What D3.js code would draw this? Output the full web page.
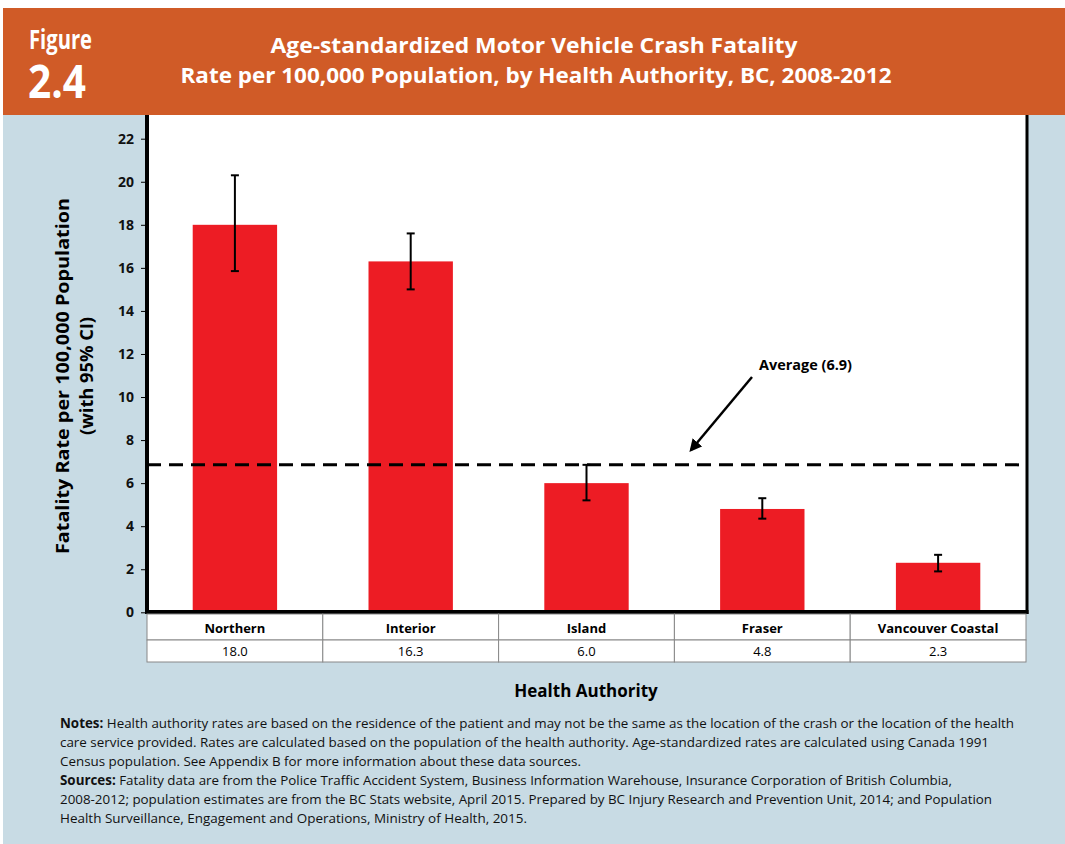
<!DOCTYPE html>
<html>
<head>
<meta charset="utf-8">
<script src="https://cdn.jsdelivr.net/npm/d3@7"></script>
<style>
  body { margin: 0; background: #fff; }
  svg { display: block; font-family: "Liberation Sans Narrow", "Open Sans", sans-serif; }
</style>
</head>
<body>
<div id="chart-area"></div>
<script>
// data
var regions = ["Northern", "Interior", "Island", "Fraser", "Vancouver Coastal"];
var rates = [18.0, 16.3, 6.0, 4.8, 2.3];
var ciLow = [15.85, 15.0, 5.2, 4.35, 1.9];
var ciHigh = [20.3, 17.6, 6.85, 5.3, 2.67];
var average = 6.85;
var yTicks = [0, 2, 4, 6, 8, 10, 12, 14, 16, 18, 20, 22];

var notes = [
  [["Notes: ", true], ["Health authority rates are based on the residence of the patient and may not be the same as the location of the crash or the location of the health", false]],
  [["care service provided. Rates are calculated based on the population of the health authority. Age-standardized rates are calculated using Canada 1991", false]],
  [["Census population. See Appendix B for more information about these data sources.", false]],
  [["Sources: ", true], ["Fatality data are from the Police Traffic Accident System, Business Information Warehouse, Insurance Corporation of British Columbia,", false]],
  [["2008-2012; population estimates are from the BC Stats website, April 2015. Prepared by BC Injury Research and Prevention Unit, 2014; and Population", false]],
  [["Health Surveillance, Engagement and Operations, Ministry of Health, 2015.", false]]
];
var noteWidths = [954, 929, 521, 892, 932, 467];

var W = 1065, H = 844;
var svg = d3.select("#chart-area").append("svg")
  .attr("width", W).attr("height", H);

// background
svg.append("rect").attr("x", 3).attr("y", 8).attr("width", W - 3).attr("height", H - 8).attr("fill", "#c8dbe4");
svg.append("rect").attr("x", 3).attr("y", 8).attr("width", W - 3).attr("height", 107).attr("fill", "#d05b27");

// header
svg.append("text").attr("x", 29).attr("y", 49).attr("fill", "#fff")
  .attr("font-size", 26).attr("font-weight", "bold").attr("textLength", 63).attr("lengthAdjust", "spacingAndGlyphs")
  .text("Figure");
svg.append("text").attr("x", 28).attr("y", 98).attr("fill", "#fff")
  .attr("font-size", 46).attr("font-weight", "bold").attr("textLength", 58).attr("lengthAdjust", "spacingAndGlyphs")
  .text("2.4");
svg.append("text").attr("x", 534).attr("y", 53).attr("fill", "#fff").attr("text-anchor", "middle")
  .attr("font-size", 22).attr("font-weight", "bold").attr("textLength", 527).attr("lengthAdjust", "spacingAndGlyphs")
  .text("Age-standardized Motor Vehicle Crash Fatality");
svg.append("text").attr("x", 536).attr("y", 83).attr("fill", "#fff").attr("text-anchor", "middle")
  .attr("font-size", 22).attr("font-weight", "bold").attr("textLength", 711).attr("lengthAdjust", "spacingAndGlyphs")
  .text("Rate per 100,000 Population, by Health Authority, BC, 2008-2012");

// plot area
var plotLeft = 147, plotRight = 1026, plotTop = 115, plotBottom = 612;
svg.append("rect").attr("x", plotLeft).attr("y", plotTop)
  .attr("width", plotRight - plotLeft).attr("height", plotBottom - plotTop).attr("fill", "#fff");

var x = d3.scaleBand().domain(regions).range([plotLeft, plotRight]).padding(0);
var y = d3.scaleLinear().domain([0, 22]).range([612.3, 138.7]);

// bars
svg.selectAll(".bar").data(regions).enter().append("rect")
  .attr("x", function(d) { return x(d) + x.bandwidth() * 0.26; })
  .attr("width", x.bandwidth() * 0.48)
  .attr("y", function(d, i) { return y(rates[i]); })
  .attr("height", function(d, i) { return y(0) - y(rates[i]); })
  .attr("fill", "#ed1c24");

// error bars
var eb = svg.selectAll(".err").data(regions).enter().append("g")
  .attr("stroke", "#000").attr("stroke-width", 2);
eb.append("line")
  .attr("x1", function(d) { return x(d) + x.bandwidth() / 2; })
  .attr("x2", function(d) { return x(d) + x.bandwidth() / 2; })
  .attr("y1", function(d, i) { return y(ciLow[i]); })
  .attr("y2", function(d, i) { return y(ciHigh[i]); });
eb.append("line")
  .attr("x1", function(d) { return x(d) + x.bandwidth() / 2 - 4; })
  .attr("x2", function(d) { return x(d) + x.bandwidth() / 2 + 4; })
  .attr("y1", function(d, i) { return y(ciLow[i]); })
  .attr("y2", function(d, i) { return y(ciLow[i]); });
eb.append("line")
  .attr("x1", function(d) { return x(d) + x.bandwidth() / 2 - 4; })
  .attr("x2", function(d) { return x(d) + x.bandwidth() / 2 + 4; })
  .attr("y1", function(d, i) { return y(ciHigh[i]); })
  .attr("y2", function(d, i) { return y(ciHigh[i]); });

// average line
svg.append("line").attr("x1", plotLeft).attr("x2", plotRight).attr("y1", y(average)).attr("y2", y(average))
  .attr("stroke", "#000").attr("stroke-width", 3).attr("stroke-dasharray", "14,8");

// arrow
svg.append("defs").append("marker").attr("id", "arrow")
  .attr("viewBox", "0 0 10 10").attr("refX", 8).attr("refY", 5)
  .attr("markerWidth", 5).attr("markerHeight", 5).attr("orient", "auto")
  .append("path").attr("d", "M0,0 L10,5 L0,10 z").attr("fill", "#000");
svg.append("line").attr("x1", 752).attr("y1", 377).attr("x2", 691).attr("y2", 450)
  .attr("stroke", "#000").attr("stroke-width", 2.5).attr("marker-end", "url(#arrow)");
svg.append("text").attr("x", 759).attr("y", 370).attr("font-size", 14).attr("font-weight", "bold")
  .attr("font-family", "Open Sans, sans-serif").attr("textLength", 93).attr("lengthAdjust", "spacingAndGlyphs")
  .text("Average (6.9)");

// y axis
var yAxis = svg.append("g").attr("transform", "translate(" + plotLeft + ",0)")
  .call(d3.axisLeft(y).tickValues(yTicks).tickSize(6).tickPadding(7));
yAxis.select(".domain").remove();
yAxis.selectAll("text").attr("font-size", 14).attr("font-weight", "bold")
  .attr("font-family", "Open Sans, sans-serif").attr("fill", "#111");
yAxis.selectAll("line").attr("stroke", "#000");

// frame lines
svg.append("line").attr("x1", plotLeft).attr("x2", plotLeft).attr("y1", plotTop).attr("y2", plotBottom + 2)
  .attr("stroke", "#000").attr("stroke-width", 4);
svg.append("line").attr("x1", plotRight + 1).attr("x2", plotRight + 1).attr("y1", plotTop).attr("y2", plotBottom + 2)
  .attr("stroke", "#000").attr("stroke-width", 3);
svg.append("line").attr("x1", plotLeft - 2).attr("x2", plotRight + 2.5).attr("y1", plotBottom).attr("y2", plotBottom)
  .attr("stroke", "#000").attr("stroke-width", 4);

// data table under the axis
var rowY = [614, 640, 662];
var cells = svg.append("g");
cells.selectAll(".c1").data(regions).enter().append("rect")
  .attr("x", function(d) { return x(d); }).attr("y", rowY[0])
  .attr("width", x.bandwidth()).attr("height", rowY[1] - rowY[0])
  .attr("fill", "#fff").attr("stroke", "#888").attr("stroke-width", 1);
cells.selectAll(".c2").data(regions).enter().append("rect")
  .attr("x", function(d) { return x(d); }).attr("y", rowY[1])
  .attr("width", x.bandwidth()).attr("height", rowY[2] - rowY[1])
  .attr("fill", "#fff").attr("stroke", "#888").attr("stroke-width", 1);
cells.selectAll(".t1").data(regions).enter().append("text")
  .attr("x", function(d) { return x(d) + x.bandwidth() / 2; }).attr("y", 633)
  .attr("text-anchor", "middle").attr("font-size", 13).attr("font-weight", "bold")
  .attr("font-family", "Open Sans, sans-serif")
  .text(function(d) { return d; });
cells.selectAll(".t2").data(regions).enter().append("text")
  .attr("x", function(d) { return x(d) + x.bandwidth() / 2; }).attr("y", 656)
  .attr("text-anchor", "middle").attr("font-size", 13)
  .attr("font-family", "Open Sans, sans-serif")
  .text(function(d, i) { return rates[i].toFixed(1); });

// axis titles
var yt = svg.append("text").attr("transform", "translate(69,376) rotate(-90)")
  .attr("text-anchor", "middle").attr("font-size", 18).attr("font-weight", "bold")
  .attr("font-family", "Open Sans, sans-serif");
yt.append("tspan").attr("x", 0).attr("dy", 0)
  .attr("textLength", 356).attr("lengthAdjust", "spacingAndGlyphs")
  .text("Fatality Rate per 100,000 Population");
yt.append("tspan").attr("x", 0).attr("dy", 24)
  .attr("textLength", 118).attr("lengthAdjust", "spacingAndGlyphs")
  .text("(with 95% CI)");

svg.append("text").attr("x", 586).attr("y", 697).attr("text-anchor", "middle")
  .attr("font-size", 17).attr("font-weight", "bold").attr("font-family", "Open Sans, sans-serif")
  .text("Health Authority");

// notes
notes.forEach(function(line, i) {
  var t = svg.append("text").attr("x", 60).attr("y", 728 + i * 19).attr("font-size", 13.5)
    .attr("fill", "#111").attr("textLength", noteWidths[i]).attr("lengthAdjust", "spacingAndGlyphs");
  line.forEach(function(part) {
    t.append("tspan").attr("font-weight", part[1] ? "bold" : "normal").text(part[0]);
  });
});
</script>
</body>
</html>
